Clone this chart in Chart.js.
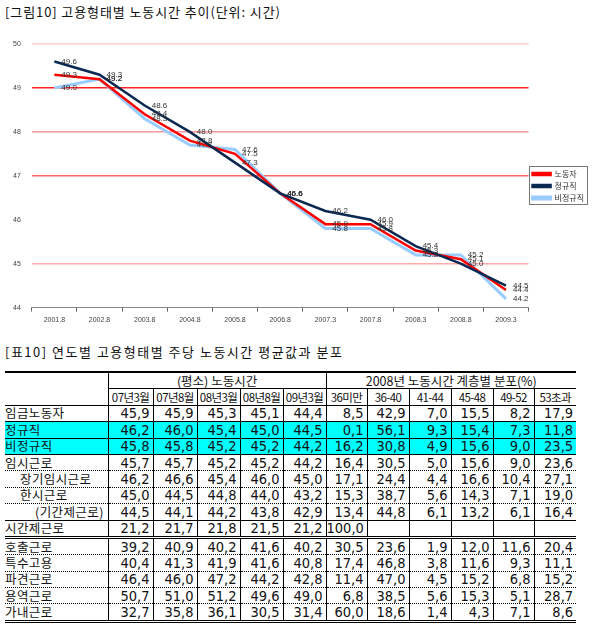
<!DOCTYPE html>
<html>
<head>
<meta charset="utf-8">
<script src="https://cdn.jsdelivr.net/npm/chart.js@4.4.0/dist/chart.umd.min.js"></script>
<style>
  body { margin: 0; background: #fff; width: 598px; height: 635px; position: relative; overflow: hidden;
         font-family: "Noto Sans CJK KR", sans-serif; color: #111; }
  .title { position: absolute; left: 5px; font-size: 13px; white-space: nowrap; }
  #wrap { position: absolute; left: 0; top: 24px; width: 598px; height: 306px; }
  table { position: absolute; left: 5px; top: 371px; width: 571px; border-collapse: collapse; table-layout: fixed; }
  td { height: 15.4px; padding: 0 3px 0 0; line-height: 14px; white-space: nowrap; overflow: hidden; }
  td.num { text-align: right; font-family: "Liberation Sans Narrow", "DejaVu Sans Condensed", sans-serif;
           font-size: 14.5px; border-left: 1px solid #000; }
  td.lab { font-size: 12.5px; letter-spacing: 0.4px; }
  tr.hd td { text-align: center; font-size: 12.5px; border-left: 1px solid #000; padding: 0; }
  tr.hd2 td { text-align: center; font-size: 11.5px; letter-spacing: -0.6px; border-left: 1px solid #000;
              border-bottom: 1px solid #000; padding: 0;
              font-family: "Liberation Sans Narrow", "Noto Sans CJK KR", sans-serif; }
  tr.top td { border-top: 2px solid #000; }
  tr.cyan td { background: #00ffff; }
</style>
</head>
<body>
<div class="title" style="top:2px;letter-spacing:0.9px">[그림10] 고용형태별 노동시간 추이(단위: 시간)</div>
<div id="wrap"><canvas id="trend"></canvas></div>
<div class="title" style="top:342px;letter-spacing:1.5px">[표10] 연도별 고용형태별 주당 노동시간 평균값과 분포</div>
<table id="tbl"></table>

<script>
// chart data
const periods = ['2001.8', '2002.8', '2003.8', '2004.8', '2005.8', '2006.8', '2007.3', '2007.8', '2008.3', '2008.8', '2009.3'];
const allWorkers = [49.3, 49.2, 48.4, 47.8, 47.5, 46.6, 45.9, 45.9, 45.3, 45.1, 44.4];
const regular = [49.6, 49.3, 48.6, 48.0, 47.3, 46.6, 46.2, 46.0, 45.4, 45.0, 44.5];
const nonRegular = [49.0, 49.2, 48.3, 47.7, 47.6, 46.6, 45.8, 45.8, 45.2, 45.2, 44.2];
const yTicks = [44, 45, 46, 47, 48, 49, 50];

// table data
const hoursCols = ['07년3월', '07년8월', '08년3월', '08년8월', '09년3월'];
const distCols = ['36미만', '36-40', '41-44', '45-48', '49-52', '53초과'];
const rowNames = ['임금노동자', '정규직', '비정규직', '임시근로', '장기임시근로', '한시근로', '(기간제근로)',
  '시간제근로', '호출근로', '특수고용', '파견근로', '용역근로', '가내근로'];
const hoursRows = [
  [45.9, 45.9, 45.3, 45.1, 44.4],
  [46.2, 46.0, 45.4, 45.0, 44.5],
  [45.8, 45.8, 45.2, 45.2, 44.2],
  [45.7, 45.7, 45.2, 45.2, 44.2],
  [46.2, 46.6, 45.4, 46.0, 45.0],
  [45.0, 44.5, 44.8, 44.0, 43.2],
  [44.5, 44.1, 44.2, 43.8, 42.9],
  [21.2, 21.7, 21.8, 21.5, 21.2],
  [39.2, 40.9, 40.2, 41.6, 40.2],
  [40.4, 41.3, 41.9, 41.6, 40.8],
  [46.4, 46.0, 47.2, 44.2, 42.8],
  [50.7, 51.0, 51.2, 49.6, 49.0],
  [32.7, 35.8, 36.1, 30.5, 31.4]
];
const distRows = [
  [8.5, 42.9, 7.0, 15.5, 8.2, 17.9],
  [0.1, 56.1, 9.3, 15.4, 7.3, 11.8],
  [16.2, 30.8, 4.9, 15.6, 9.0, 23.5],
  [16.4, 30.5, 5.0, 15.6, 9.0, 23.6],
  [17.1, 24.4, 4.4, 16.6, 10.4, 27.1],
  [15.3, 38.7, 5.6, 14.3, 7.1, 19.0],
  [13.4, 44.8, 6.1, 13.2, 6.1, 16.4],
  [100.0, null, null, null, null, null],
  [30.5, 23.6, 1.9, 12.0, 11.6, 20.4],
  [17.4, 46.8, 3.8, 11.6, 9.3, 11.1],
  [11.4, 47.0, 4.5, 15.2, 6.8, 15.2],
  [6.8, 38.5, 5.6, 15.3, 5.1, 28.7],
  [60.0, 18.6, 1.4, 4.3, 7.1, 8.6]
];

// ---- table ----
const indent = { '장기임시근로': 15, '한시근로': 15, '(기간제근로)': 30 };
const rowLine = ['1px solid #000', '1px solid #000', '1px solid #000', '1px dotted #000', '1px dotted #000',
  '1px dotted #000', '1px solid #000', '3px double #000', '1px dotted #000', '1px dotted #000',
  '1px dotted #000', '1px dotted #000', '3px double #000'];
const fmt = v => v == null ? '' : v.toFixed(1).replace('.', ',');

let html = '<colgroup><col style="width:103px">';
[45, 44, 43, 43, 43, 41, 42, 42, 42, 41, 42].forEach(w => html += '<col style="width:' + w + 'px">');
html += '</colgroup>';
html += '<tr class="hd top"><td rowspan="2" style="border-left:none;border-bottom:1px solid #000"></td>' +
  '<td colspan="5" style="border-bottom:1px solid #000">(평소) 노동시간</td>' +
  '<td colspan="6" style="border-bottom:1px solid #000">2008년 노동시간 계층별 분포(%)</td></tr>';
html += '<tr class="hd2">' + hoursCols.concat(distCols).map(c => '<td>' + c + '</td>').join('') + '</tr>';
rowNames.forEach((name, i) => {
  const cls = (i === 1 || i === 2) ? ' class="cyan"' : '';
  const b = 'border-bottom:' + rowLine[i];
  html += '<tr' + cls + '><td class="lab" style="' + b + ';padding-left:' + (indent[name] || 0) + 'px">' + name + '</td>';
  hoursRows[i].concat(distRows[i]).forEach(v => {
    html += '<td class="num" style="' + b + '">' + fmt(v) + '</td>';
  });
  html += '</tr>';
});
document.getElementById('tbl').innerHTML = html;

// ---- chart ----
const gridColor = {
  44: 'rgba(0,0,0,0)', 45: '#ffaaaa', 46: 'rgba(0,0,0,0)', 47: '#ff6666',
  48: '#ff9999', 49: '#ff2222', 50: '#ffcccc'
};

const valueLabels = {
  id: 'valueLabels',
  afterDatasetsDraw(chart) {
    const ctx = chart.ctx;
    ctx.save();
    ctx.font = '8px "Liberation Sans", Arial, sans-serif';
    ctx.fillStyle = '#333';
    ctx.textBaseline = 'middle';
    chart.data.datasets.forEach((ds, i) => {
      chart.getDatasetMeta(i).data.forEach((pt, j) => {
        ctx.fillText(ds.data[j].toFixed(1), pt.x + 7, pt.y);
      });
    });
    ctx.restore();
  }
};

const legendBox = {
  id: 'legendBox',
  afterDraw(chart) {
    const boxes = chart.legend.legendHitBoxes;
    if (!boxes || !boxes.length) return;
    let l = Infinity, t = Infinity, r = -Infinity, b = -Infinity;
    boxes.forEach(h => {
      l = Math.min(l, h.left); t = Math.min(t, h.top);
      r = Math.max(r, h.left + h.width); b = Math.max(b, h.top + h.height);
    });
    const ctx = chart.ctx;
    ctx.save();
    ctx.strokeStyle = '#777';
    ctx.lineWidth = 1;
    ctx.strokeRect(Math.round(l) - 3.5, Math.round(t) - 3.5, Math.round(r - l) + 7, Math.round(b - t) + 6);
    ctx.restore();
  }
};

new Chart(document.getElementById('trend'), {
  type: 'line',
  data: {
    labels: periods,
    datasets: [
      { label: '노동자', data: allWorkers, borderColor: '#ff0000', backgroundColor: '#ff0000', borderWidth: 2.5, order: 1 },
      { label: '정규직', data: regular, borderColor: '#0a2850', backgroundColor: '#0a2850', borderWidth: 2.5, order: 0 },
      { label: '비정규직', data: nonRegular, borderColor: '#99ccff', backgroundColor: '#99ccff', borderWidth: 3, order: 2 }
    ]
  },
  options: {
    responsive: true,
    maintainAspectRatio: false,
    animation: false,
    events: [],
    elements: { point: { radius: 0 }, line: { tension: 0 } },
    layout: { padding: { left: 2, right: 4, top: 20, bottom: 2 } },
    plugins: {
      tooltip: { enabled: false },
      legend: {
        position: 'right',
        labels: {
          boxWidth: 18,
          boxHeight: 2,
          padding: 4,
          color: '#333',
          font: { family: '"Noto Sans CJK KR", sans-serif', size: 8 },
          sort: (a, b) => a.datasetIndex - b.datasetIndex
        }
      }
    },
    scales: {
      x: {
        offset: true,
        grid: { display: true, drawOnChartArea: false, drawTicks: true, tickLength: 4, offset: true, color: '#666' },
        border: { display: true, color: '#888' },
        ticks: { color: '#444', font: { family: '"Liberation Sans", Arial, sans-serif', size: 7 }, maxRotation: 0, padding: 4 }
      },
      y: {
        min: 44,
        max: 50,
        afterBuildTicks: axis => { axis.ticks = yTicks.map(v => ({ value: v })); },
        grid: { drawTicks: false, lineWidth: 1.5, color: c => gridColor[c.tick.value] },
        border: { display: false },
        ticks: { color: '#444', font: { family: '"Liberation Sans", Arial, sans-serif', size: 7 }, padding: 11 }
      }
    }
  },
  plugins: [valueLabels, legendBox]
});
</script>
</body>
</html>
